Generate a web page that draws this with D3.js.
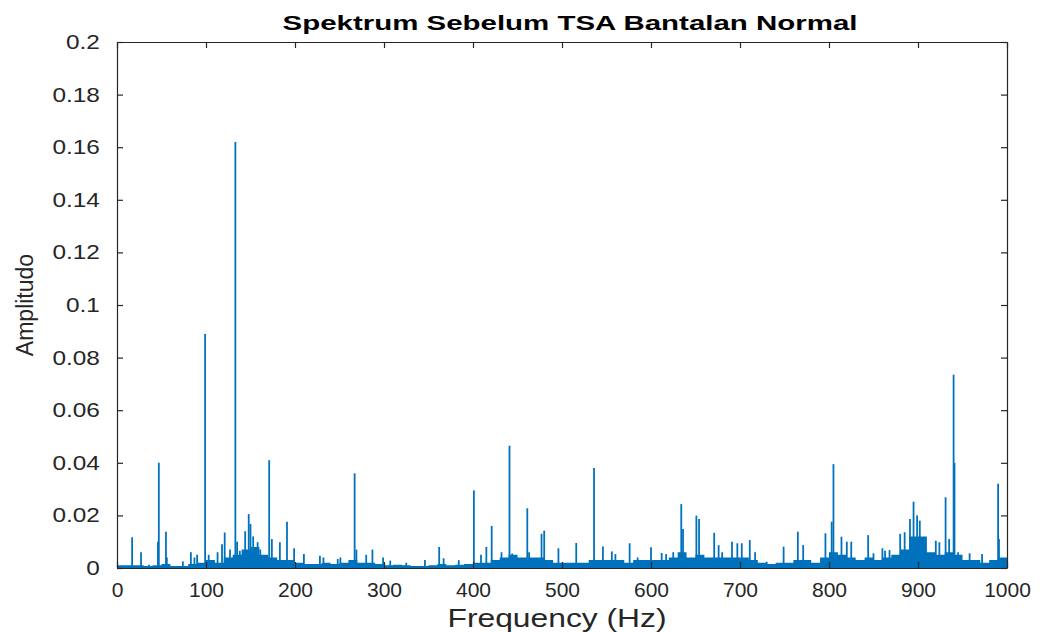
<!DOCTYPE html>
<html>
<head>
<meta charset="utf-8">
<script src="https://cdn.jsdelivr.net/npm/d3@7"></script>
<style>
  body { margin: 0; background: #fff; }
  text { font-family: "Liberation Sans", Arial, sans-serif; }
</style>
</head>
<body>
<div id="chart"></div>
<script>
var width = 1042;
var height = 632;

// spectral lines: frequency (Hz) and amplitude
var peakFreq = [17, 27, 36, 46, 47, 55, 56, 74, 83, 87, 90, 99, 103, 113, 118, 121, 127,
    133, 135, 138, 144, 148, 150, 153, 158, 161,
    171, 174, 183, 191, 199, 210, 228, 232, 248, 251, 267, 269, 280, 287, 299, 307, 325,
    346, 362, 367, 384, 401, 409, 415, 421, 432, 441, 444, 461, 463, 477, 480, 496, 516,
    536, 546, 556, 560, 576, 585, 600, 612, 617, 625, 634, 636, 651, 654, 671, 676, 680,
    691, 697, 702, 711, 717, 730, 749, 765, 771, 796, 803, 805, 814, 820, 825, 844, 850,
    860, 863, 868, 880, 885, 891, 895, 899, 902, 907, 920, 924, 931, 935, 940, 941, 945,
    958, 972, 990, 991];
var peakAmp = [0.0117, 0.006, 0.0012, 0.010, 0.040, 0.0138, 0.004, 0.0025, 0.006, 0.004, 0.005, 0.089, 0.005, 0.006, 0.009, 0.0135, 0.007,
    0.162, 0.010, 0.0065, 0.014, 0.0205, 0.0167, 0.012, 0.0098, 0.007,
    0.041, 0.011, 0.0098, 0.0176, 0.0075, 0.0053, 0.0047, 0.004, 0.0034, 0.004, 0.036, 0.007, 0.005, 0.007, 0.004, 0.0028, 0.002,
    0.003, 0.008, 0.0037, 0.003, 0.0295, 0.005, 0.008, 0.016, 0.006, 0.0465, 0.0055, 0.0227, 0.006, 0.013, 0.0142, 0.0075, 0.0095,
    0.038, 0.0082, 0.0063, 0.0053, 0.0094, 0.004, 0.0079, 0.0057, 0.0053, 0.006, 0.0243, 0.0148, 0.0199, 0.0186, 0.0134, 0.0087, 0.006,
    0.010, 0.0094, 0.0094, 0.0106, 0.006, 0.0024, 0.0081, 0.0138, 0.0087, 0.0132, 0.0176, 0.0395, 0.0119, 0.010, 0.010, 0.0125, 0.0056,
    0.0075, 0.0066, 0.0068, 0.013, 0.0136, 0.0186, 0.0252, 0.020, 0.018, 0.0085, 0.0104, 0.0098, 0.0269, 0.011, 0.0735, 0.040, 0.006,
    0.0056, 0.0053, 0.032, 0.011];

// dense noise floor, one level per 10 Hz band starting at floorFreq
var floorFreq = d3.range(0, 1010, 10);
var floorAmp = [0.001, 0.001, 0.001, 0.0008, 0.001, 0.0015, 0.0008, 0.0008, 0.0015, 0.002,
    0.003, 0.002, 0.004, 0.005, 0.007, 0.008, 0.005, 0.004, 0.003, 0.003,
    0.002, 0.0015, 0.0015, 0.002, 0.0015, 0.002, 0.003, 0.002, 0.002, 0.0015,
    0.001, 0.0012, 0.001, 0.0008, 0.0008, 0.001, 0.0015, 0.001, 0.0012, 0.0015,
    0.002, 0.002, 0.003, 0.004, 0.005, 0.004, 0.004, 0.004, 0.003, 0.002,
    0.002, 0.002, 0.002, 0.003, 0.003, 0.003, 0.003, 0.002, 0.003, 0.003,
    0.003, 0.003, 0.004, 0.006, 0.004, 0.005, 0.004, 0.004, 0.004, 0.004,
    0.004, 0.003, 0.002, 0.0015, 0.002, 0.002, 0.003, 0.003, 0.002, 0.004,
    0.006, 0.005, 0.004, 0.003, 0.004, 0.003, 0.004, 0.005, 0.007, 0.012,
    0.012, 0.006, 0.005, 0.006, 0.005, 0.003, 0.003, 0.002, 0.003, 0.004, 0.004];

var xTicks = [0, 100, 200, 300, 400, 500, 600, 700, 800, 900, 1000];
var xTickLabels = ["0", "100", "200", "300", "400", "500", "600", "700", "800", "900", "1000"];
var yTicks = [0, 0.02, 0.04, 0.06, 0.08, 0.1, 0.12, 0.14, 0.16, 0.18, 0.2];
var yTickLabels = ["0", "0.02", "0.04", "0.06", "0.08", "0.1", "0.12", "0.14", "0.16", "0.18", "0.2"];

var margin = {left: 117, right: 35, top: 42, bottom: 64};
var x = d3.scaleLinear().domain([0, 1000]).range([margin.left, width - margin.right]);
var y = d3.scaleLinear().domain([0, 0.2]).range([height - margin.bottom, margin.top]);

var svg = d3.select("#chart")
    .append("svg")
    .attr("width", width)
    .attr("height", height)

var blue = "#0072BD";
var axisColor = "#262626";

// noise floor
var floorData = floorFreq.map(function(f, i) { return [f, floorAmp[i]] });
svg.append("path")
    .datum(floorData)
    .attr("d", d3.area()
        .x(function(d) { return x(d[0]) })
        .y0(y(0))
        .y1(function(d) { return y(d[1]) })
        .curve(d3.curveStepAfter))
    .attr("fill", blue)

// spectral lines
svg.append("g").selectAll("line")
    .data(peakFreq)
    .enter().append("line")
    .attr("x1", function(d) { return x(d) })
    .attr("x2", function(d) { return x(d) })
    .attr("y1", y(0))
    .attr("y2", function(d, i) { return y(peakAmp[i]) })
    .attr("stroke", blue)
    .attr("stroke-width", 1.8)

// axes, MATLAB style box with inward ticks
var xAxis = svg.append("g")
    .attr("transform", "translate(0," + y(0) + ")")
    .call(d3.axisBottom(x).tickValues(xTicks).tickSizeInner(-6).tickSizeOuter(0).tickPadding(14)
        .tickFormat(function(d, i) { return xTickLabels[i] }))
var xTop = svg.append("g")
    .attr("transform", "translate(0," + y(0.2) + ")")
    .call(d3.axisTop(x).tickValues(xTicks).tickSizeInner(-6).tickSizeOuter(0).tickFormat(""))
var yAxis = svg.append("g")
    .attr("transform", "translate(" + x(0) + ",0)")
    .call(d3.axisLeft(y).tickValues(yTicks).tickSizeInner(-6).tickSizeOuter(0).tickPadding(14)
        .tickFormat(function(d, i) { return yTickLabels[i] }))
var yRight = svg.append("g")
    .attr("transform", "translate(" + x(1000) + ",0)")
    .call(d3.axisRight(y).tickValues(yTicks).tickSizeInner(-6).tickSizeOuter(0).tickFormat(""))

svg.selectAll(".domain").attr("stroke", axisColor).attr("stroke-width", 1.2)
svg.selectAll(".tick line").attr("stroke", axisColor).attr("stroke-width", 1.2)
xAxis.selectAll("text").attr("font-size", 21).attr("fill", axisColor).attr("font-family", "Liberation Sans")
yAxis.selectAll("text").attr("font-size", 20).attr("fill", axisColor).attr("font-family", "Liberation Sans")
    .attr("transform", "scale(1.22,1)")

// title and labels
svg.append("text")
    .attr("x", (x(0) + x(1000)) / 2 + 8)
    .attr("y", 30)
    .attr("text-anchor", "middle")
    .attr("font-size", 21)
    .attr("font-weight", "bold")
    .attr("fill", "#000")
    .attr("textLength", 575)
    .attr("lengthAdjust", "spacingAndGlyphs")
    .text("Spektrum Sebelum TSA Bantalan Normal")

svg.append("text")
    .attr("x", 557)
    .attr("y", 627)
    .attr("text-anchor", "middle")
    .attr("font-size", 26)
    .attr("fill", axisColor)
    .attr("textLength", 219)
    .attr("lengthAdjust", "spacingAndGlyphs")
    .text("Frequency (Hz)")

svg.append("text")
    .attr("transform", "translate(33," + y(0.1) + ") rotate(-90)")
    .attr("text-anchor", "middle")
    .attr("font-size", 23)
    .attr("fill", axisColor)
    .text("Amplitudo")
</script>
</body>
</html>
